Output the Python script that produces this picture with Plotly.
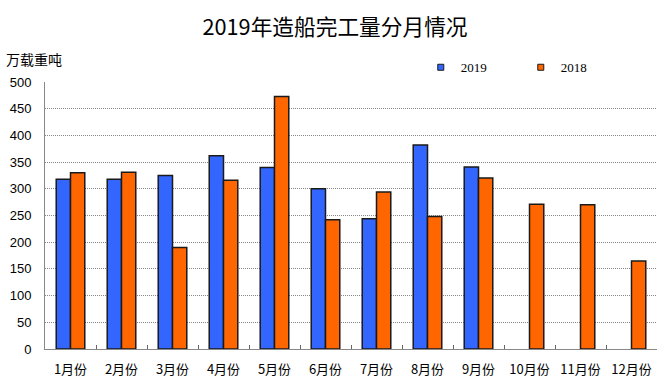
import plotly.graph_objects as go

months = ["1月份", "2月份", "3月份", "4月份", "5月份", "6月份",
          "7月份", "8月份", "9月份", "10月份", "11月份", "12月份"]
values_2019 = [318, 318, 325, 362, 340, 300, 244, 382, 341, None, None, None]
values_2018 = [330, 331, 190, 316, 473, 242, 294, 248, 320, 271, 270, 165]
y_ticks = [0, 50, 100, 150, 200, 250, 300, 350, 400, 450, 500]

blue = "#3366FF"
orange = "#FF6600"
edge = "#1a1a1a"

fig = go.Figure()
fig.add_trace(go.Bar(name="2019", x=months, y=values_2019, showlegend=False,
                     marker=dict(color=blue, line=dict(color=edge, width=1.5))))
fig.add_trace(go.Bar(name="2018", x=months, y=values_2018, showlegend=False,
                     marker=dict(color=orange, line=dict(color=edge, width=1.5))))
# legend entries with small square symbols
fig.add_trace(go.Scatter(name="2019", x=[months[0]], y=[None], mode="markers",
                         marker=dict(symbol="square", size=6, color=blue,
                                     line=dict(color=edge, width=1)),
                         hoverinfo="skip"))
fig.add_trace(go.Scatter(name="2018", x=[months[0]], y=[None], mode="markers",
                         marker=dict(symbol="square", size=6, color=orange,
                                     line=dict(color=edge, width=1)),
                         hoverinfo="skip"))

fig.update_layout(
    width=670, height=380,
    margin=dict(l=45, r=13, t=82, b=31),
    paper_bgcolor="white", plot_bgcolor="white",
    barmode="group", bargap=0.44, bargroupgap=0,
    title=dict(text="2019年造船完工量分月情况", x=0.5, xanchor="center",
               y=0.928, yanchor="middle",
               font=dict(family="Noto Sans CJK SC", size=21.7, color="black")),
    legend=dict(orientation="h", x=0.614, y=1.055, xanchor="left", yanchor="middle",
                font=dict(family="Liberation Serif", size=13, color="black"),
                entrywidth=55, entrywidthmode="pixels", itemwidth=30,
                bgcolor="rgba(0,0,0,0)"),
    showlegend=True,
    annotations=[dict(text="万载重吨", xref="paper", yref="paper", x=-0.067, y=1.085,
                      xanchor="left", yanchor="middle", showarrow=False,
                      font=dict(family="Noto Sans CJK SC", size=14, color="black"))],
)
fig.update_xaxes(type="category", range=[-0.5, 11.5], tickson="boundaries",
                 ticks="inside", ticklen=4, automargin=False,
                 tickcolor="#666666", showline=True, linecolor="#888888", linewidth=1,
                 tickfont=dict(family="Noto Sans CJK SC", size=13, color="black"),
                 ticklabelstandoff=8, showgrid=False)
fig.update_yaxes(range=[0, 500], tickvals=y_ticks, showline=True, linecolor="#888888",
                 linewidth=1, showgrid=True, gridcolor="#888888", griddash="1px,1px",
                 gridwidth=1, ticks="", ticklabelstandoff=10, automargin=False,
                 tickfont=dict(family="Liberation Sans", size=13, color="black"),
                 zeroline=False)

fig.write_html("out.html", config={"displayModeBar": False},
               post_script="document.body.style.margin='0px';")
